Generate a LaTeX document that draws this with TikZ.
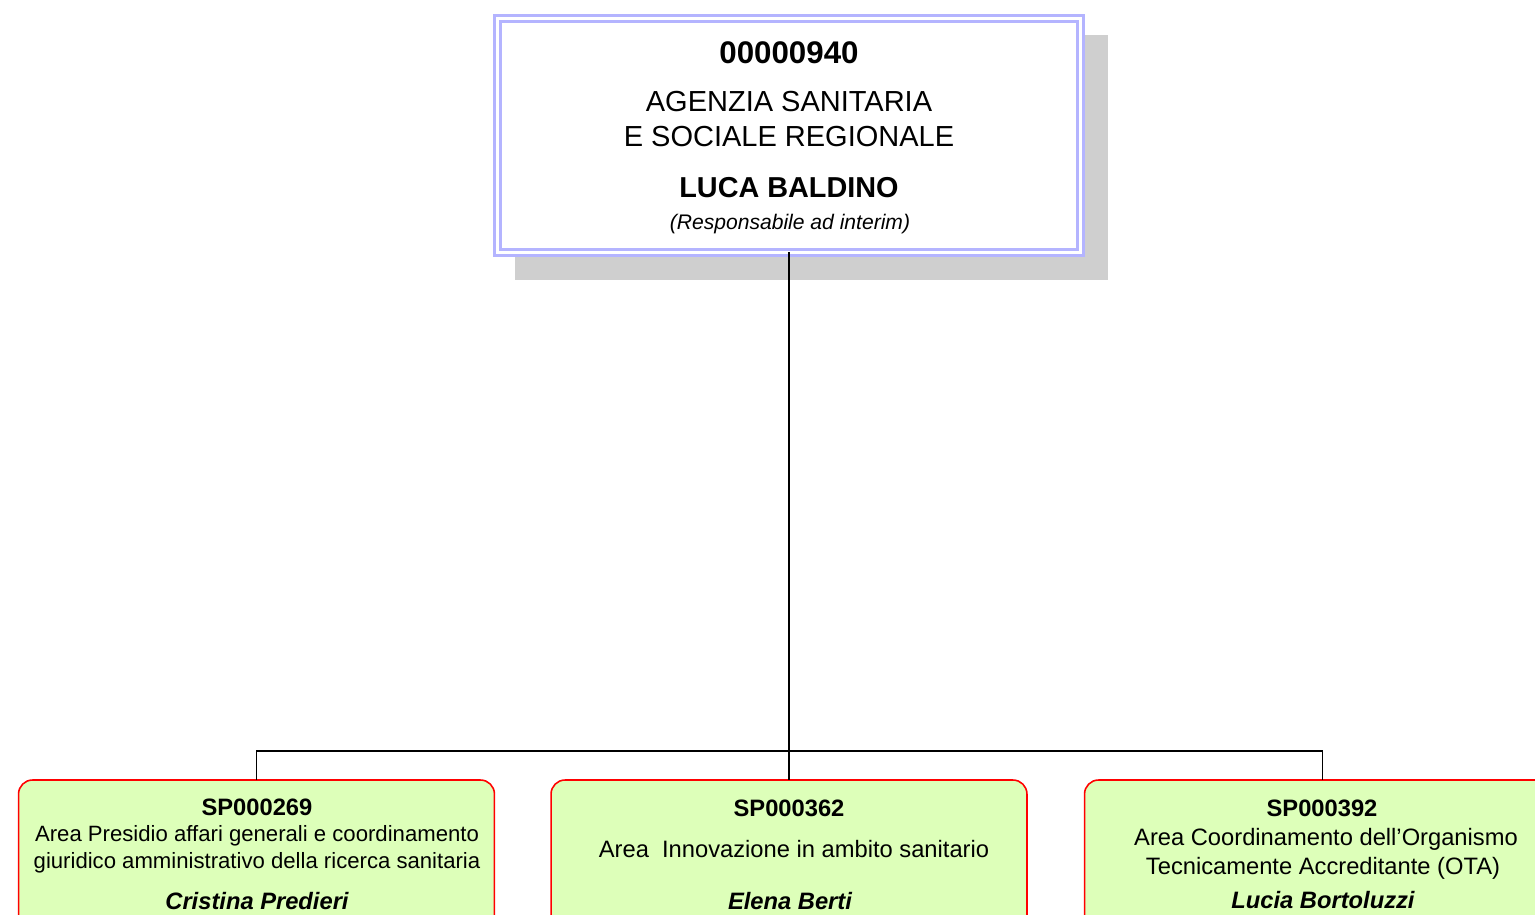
\documentclass[tikz,border=0pt]{standalone}
\usepackage{fontspec}
\setmainfont{Liberation Sans}
\definecolor{lavender}{HTML}{B4B4FF}
\definecolor{leaf}{HTML}{DDFFB9}
\definecolor{shadowgray}{HTML}{CFCFCF}
\tikzset{
    every node/.style={inner sep=0pt, outer sep=0pt}
}
\tikzset{
    headbox/.style={rectangle, draw=lavender, double=white, line width=1.5pt,
    	double distance=1.7pt, fill=white, minimum width=11.66cm,
    	minimum height=4.68cm},
    areabox/.style={rectangle, rounded corners=0.28cm, draw=red, fill=leaf,
    	line width=0.9pt, minimum width=9.52cm, minimum height=3cm},
    unit/.style={anchor=base, font=\bfseries\fontsize{13.5}{16}\selectfont},
    desc/.style={anchor=base, font=\fontsize{13.5}{16}\selectfont},
    who/.style={anchor=base, font=\bfseries\itshape\fontsize{13.5}{16}\selectfont},
    link/.style={line width=1.1pt}
}
\pgfdeclarelayer{background}
\pgfsetlayers{background,main}

\begin{document}
\begin{tikzpicture}[x=0.02cm, y=-0.02cm]
  \useasboundingbox (0,0) rectangle (1535,915);

  % top unit
  \node (top) [headbox] at (789,135.5) {};
  \node (topcode) [anchor=base, font=\bfseries\fontsize{17.8}{20}\selectfont]
  	at (789,64) {00000940};
  \node (topname1) [anchor=base, font=\fontsize{16.5}{20}\selectfont]
  	at (789,112) {AGENZIA SANITARIA};
  \node (topname2) [anchor=base, font=\fontsize{16.5}{20}\selectfont]
  	at (789,147) {E SOCIALE REGIONALE};
  \node (tophead) [anchor=base, font=\bfseries\fontsize{16.4}{20}\selectfont]
  	at (789,197.5) {LUCA BALDINO};
  \node (toprole) [anchor=base, font=\itshape\fontsize{12}{14}\selectfont]
  	at (790,229.5) {(Responsabile ad interim)};
  \begin{pgfonlayer}{background}
    \fill[shadowgray] ([shift={(17.5,16.5)}]top.north west)
    	rectangle ([shift={(27.5,27.5)}]top.south east);
  \end{pgfonlayer}

  % areas
  \node (a1) [areabox] at (256.5,855) {};
  \node (a2) [areabox] at (789,855) {};
  \node (a3) [areabox] at (1322.5,855) {};

  \node (a1code) [unit] at (257,815) {SP000269};
  \node (a1txt1) [desc, font=\fontsize{12.6}{15}\selectfont] at (257,841)
  	{Area Presidio affari generali e coordinamento};
  \node (a1txt2) [desc, font=\fontsize{12.6}{15}\selectfont] at (257,868)
  	{giuridico amministrativo della ricerca sanitaria};
  \node (a1who) [who] at (257,909) {Cristina Predieri};

  \node (a2code) [unit] at (789,816) {SP000362};
  \node (a2txt) [desc] at (794,857) {Area\ \ Innovazione in ambito sanitario};
  \node (a2who) [who] at (790,909) {Elena Berti};

  \node (a3code) [unit] at (1322,816) {SP000392};
  \node (a3txt1) [desc] at (1326,845) {Area Coordinamento dell’Organismo};
  \node (a3txt2) [desc] at (1323,874) {Tecnicamente Accreditante (OTA)};
  \node (a3who) [who] at (1323,908) {Lucia Bortoluzzi};

  \coordinate (fork) at (789,751);
  \draw[link] (top) -- (fork);
  \draw[link] (a1.north) |- (fork) -| (a3.north);
  \draw[link] (fork) -- (a2.north);
\end{tikzpicture}
\end{document}
